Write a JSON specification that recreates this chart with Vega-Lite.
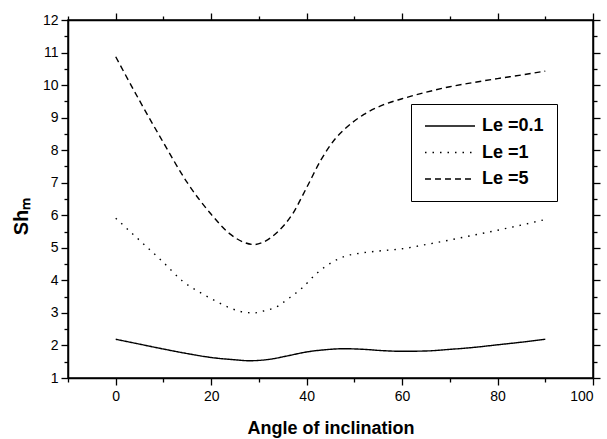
{
  "$schema": "https://vega.github.io/schema/vega-lite/v6.json",
  "width": 525,
  "height": 358,
  "autosize": {"type": "none"},
  "padding": {"left": 68, "top": 20, "right": 14, "bottom": 61},
  "background": "white",
  "config": {
    "font": "Liberation Sans",
    "view": {"stroke": "black", "strokeWidth": 1.5},
    "axis": {
      "domainColor": "black",
      "domainWidth": 1.5,
      "tickColor": "black",
      "tickWidth": 1.3,
      "grid": false,
      "labelFont": "Liberation Sans",
      "labelFontSize": 14,
      "labelColor": "black",
      "titleFont": "Liberation Sans",
      "titleFontSize": 18,
      "titleFontWeight": "bold",
      "titleColor": "black"
    }
  },
  "data": {
    "values": [
      {"angle": 0, "Sh": 2.19, "series": "Le =0.1"},
      {"angle": 5, "Sh": 2.04, "series": "Le =0.1"},
      {"angle": 10, "Sh": 1.89, "series": "Le =0.1"},
      {"angle": 15, "Sh": 1.75, "series": "Le =0.1"},
      {"angle": 20, "Sh": 1.63, "series": "Le =0.1"},
      {"angle": 25, "Sh": 1.56, "series": "Le =0.1"},
      {"angle": 28, "Sh": 1.53, "series": "Le =0.1"},
      {"angle": 32, "Sh": 1.57, "series": "Le =0.1"},
      {"angle": 36, "Sh": 1.68, "series": "Le =0.1"},
      {"angle": 40, "Sh": 1.8, "series": "Le =0.1"},
      {"angle": 44, "Sh": 1.87, "series": "Le =0.1"},
      {"angle": 48, "Sh": 1.9, "series": "Le =0.1"},
      {"angle": 52, "Sh": 1.88, "series": "Le =0.1"},
      {"angle": 56, "Sh": 1.84, "series": "Le =0.1"},
      {"angle": 60, "Sh": 1.82, "series": "Le =0.1"},
      {"angle": 65, "Sh": 1.83, "series": "Le =0.1"},
      {"angle": 70, "Sh": 1.88, "series": "Le =0.1"},
      {"angle": 75, "Sh": 1.94, "series": "Le =0.1"},
      {"angle": 80, "Sh": 2.02, "series": "Le =0.1"},
      {"angle": 85, "Sh": 2.1, "series": "Le =0.1"},
      {"angle": 90, "Sh": 2.19, "series": "Le =0.1"},

      {"angle": 0, "Sh": 5.91, "series": "Le =1"},
      {"angle": 5, "Sh": 5.23, "series": "Le =1"},
      {"angle": 10, "Sh": 4.55, "series": "Le =1"},
      {"angle": 14, "Sh": 3.98, "series": "Le =1"},
      {"angle": 18, "Sh": 3.6, "series": "Le =1"},
      {"angle": 21, "Sh": 3.36, "series": "Le =1"},
      {"angle": 24, "Sh": 3.15, "series": "Le =1"},
      {"angle": 26, "Sh": 3.05, "series": "Le =1"},
      {"angle": 29, "Sh": 3.0, "series": "Le =1"},
      {"angle": 31, "Sh": 3.06, "series": "Le =1"},
      {"angle": 34, "Sh": 3.21, "series": "Le =1"},
      {"angle": 36, "Sh": 3.42, "series": "Le =1"},
      {"angle": 39, "Sh": 3.76, "series": "Le =1"},
      {"angle": 42, "Sh": 4.2, "series": "Le =1"},
      {"angle": 45.5, "Sh": 4.57, "series": "Le =1"},
      {"angle": 48, "Sh": 4.74, "series": "Le =1"},
      {"angle": 51, "Sh": 4.83, "series": "Le =1"},
      {"angle": 55, "Sh": 4.9, "series": "Le =1"},
      {"angle": 60, "Sh": 4.97, "series": "Le =1"},
      {"angle": 65, "Sh": 5.1, "series": "Le =1"},
      {"angle": 70, "Sh": 5.24, "series": "Le =1"},
      {"angle": 75, "Sh": 5.39, "series": "Le =1"},
      {"angle": 80, "Sh": 5.54, "series": "Le =1"},
      {"angle": 85, "Sh": 5.7, "series": "Le =1"},
      {"angle": 90, "Sh": 5.87, "series": "Le =1"},

      {"angle": 0, "Sh": 10.87, "series": "Le =5"},
      {"angle": 5, "Sh": 9.52, "series": "Le =5"},
      {"angle": 10, "Sh": 8.23, "series": "Le =5"},
      {"angle": 15, "Sh": 7.0, "series": "Le =5"},
      {"angle": 20, "Sh": 6.03, "series": "Le =5"},
      {"angle": 24, "Sh": 5.42, "series": "Le =5"},
      {"angle": 27, "Sh": 5.16, "series": "Le =5"},
      {"angle": 29, "Sh": 5.1, "series": "Le =5"},
      {"angle": 31, "Sh": 5.18, "series": "Le =5"},
      {"angle": 34, "Sh": 5.5, "series": "Le =5"},
      {"angle": 37, "Sh": 6.03, "series": "Le =5"},
      {"angle": 40, "Sh": 6.85, "series": "Le =5"},
      {"angle": 43, "Sh": 7.7, "series": "Le =5"},
      {"angle": 46, "Sh": 8.35, "series": "Le =5"},
      {"angle": 48, "Sh": 8.65, "series": "Le =5"},
      {"angle": 52, "Sh": 9.1, "series": "Le =5"},
      {"angle": 56, "Sh": 9.39, "series": "Le =5"},
      {"angle": 60, "Sh": 9.58, "series": "Le =5"},
      {"angle": 65, "Sh": 9.78, "series": "Le =5"},
      {"angle": 70, "Sh": 9.95, "series": "Le =5"},
      {"angle": 75, "Sh": 10.08, "series": "Le =5"},
      {"angle": 80, "Sh": 10.2, "series": "Le =5"},
      {"angle": 85, "Sh": 10.31, "series": "Le =5"},
      {"angle": 90, "Sh": 10.43, "series": "Le =5"}
    ]
  },
  "resolve": {"axis": {"x": "independent", "y": "independent"}},
  "layer": [
    {
      "mark": {"type": "line", "interpolate": "monotone", "color": "black", "strokeWidth": 1.4},
      "encoding": {
        "x": {
          "field": "angle", "type": "quantitative",
          "scale": {"domain": [-10, 100], "nice": false, "zero": false},
          "axis": {
            "title": "Angle of inclination",
            "values": [-10, 0, 10, 20, 30, 40, 50, 60, 70, 80, 90, 100],
            "labelExpr": "datum.value % 20 === 0 ? datum.label : ''",
            "tickSize": {"condition": {"test": "datum.value % 20 !== 0", "value": 4}, "value": 7},
            "labelPadding": 4,
            "titleBaseline": "alphabetic",
            "titleY": 55
          }
        },
        "y": {
          "field": "Sh", "type": "quantitative",
          "scale": {"domain": [1, 12], "nice": false, "zero": false},
          "axis": {
            "title": "Shₘ",
            "values": [1, 1.5, 2, 2.5, 3, 3.5, 4, 4.5, 5, 5.5, 6, 6.5, 7, 7.5, 8, 8.5, 9, 9.5, 10, 10.5, 11, 11.5, 12],
            "labelExpr": "datum.value % 1 === 0 ? format(datum.value, 'd') : ''",
            "tickSize": {"condition": {"test": "datum.value % 1 !== 0", "value": 4}, "value": 7},
            "labelPadding": 3,
            "titleFontSize": 20,
            "titleBaseline": "alphabetic",
            "titleAngle": -90,
            "titleX": -41,
            "titleY": 196
          }
        },
        "strokeDash": {
          "field": "series", "type": "nominal",
          "scale": {"domain": ["Le =0.1", "Le =1", "Le =5"], "range": [[1, 0], [1.5, 6], [6, 4]]},
          "legend": {
            "title": null,
            "orient": "none",
            "legendX": 343,
            "legendY": 84,
            "symbolType": "M-1.6,0H8.4",
            "symbolSize": 100,
            "symbolStrokeColor": "black",
            "symbolStrokeWidth": 1.4,
            "labelFont": "Liberation Sans",
            "labelFontSize": 18,
            "labelFontWeight": "bold",
            "labelColor": "black",
            "labelOffset": 40,
            "rowPadding": 8.5,
            "padding": 13,
            "strokeColor": "black",
            "fillColor": "white"
          }
        }
      }
    },
    {
      "mark": {"type": "line", "opacity": 0},
      "encoding": {
        "x": {
          "field": "angle", "type": "quantitative",
          "axis": {
            "orient": "top", "title": null, "labels": false,
            "values": [-10, 0, 10, 20, 30, 40, 50, 60, 70, 80, 90, 100],
            "tickSize": {"condition": {"test": "datum.value % 20 !== 0", "value": 4}, "value": 7}
          }
        },
        "y": {
          "field": "Sh", "type": "quantitative",
          "axis": {
            "orient": "right", "title": null, "labels": false,
            "values": [1, 1.5, 2, 2.5, 3, 3.5, 4, 4.5, 5, 5.5, 6, 6.5, 7, 7.5, 8, 8.5, 9, 9.5, 10, 10.5, 11, 11.5, 12],
            "tickSize": {"condition": {"test": "datum.value % 1 !== 0", "value": 4}, "value": 7}
          }
        }
      }
    }
  ]
}
